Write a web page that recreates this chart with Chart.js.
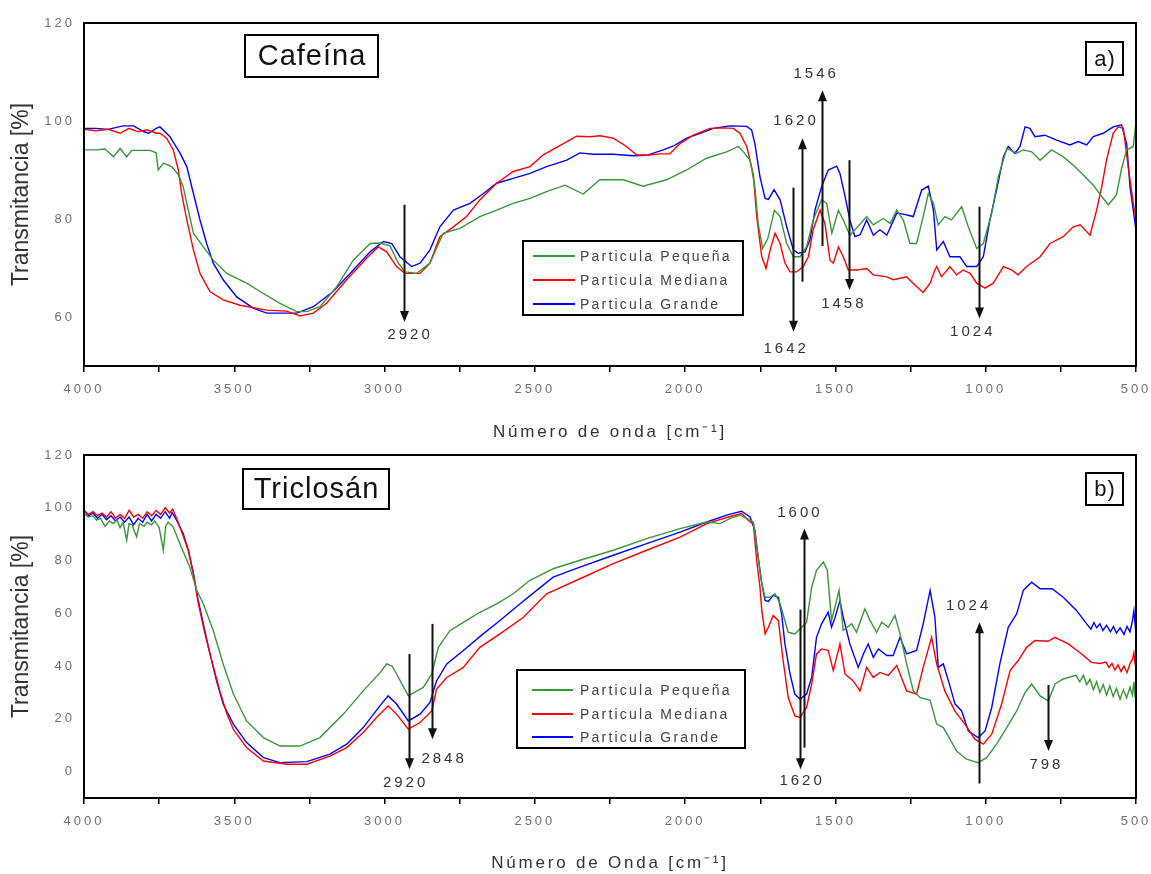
<!DOCTYPE html>
<html>
<head>
<meta charset="utf-8">
<title>FTIR Cafeína / Triclosán</title>
<script src="https://cdn.jsdelivr.net/npm/chart.js@4.4.0/dist/chart.umd.min.js"></script>
<style>
  body { margin: 0; background: #fff; }
  canvas { display: block; }
</style>
</head>
<body>
<canvas id="cafCanvas" width="1151" height="444"></canvas>
<canvas id="tclCanvas" width="1151" height="430"></canvas>
<script>
/* ---------- shared axis data ---------- */
const xTicks      = [4000, 3750, 3500, 3250, 3000, 2750, 2500, 2250, 2000, 1750, 1500, 1250, 1000, 750, 500];
const cafYTicks   = [60, 80, 100, 120];
const tclYTicks   = [0, 20, 40, 60, 80, 100, 120];
const seriesNames = ["Particula Pequeña", "Particula Mediana", "Particula Grande"];

/* ---------- a) Cafeína : [wavenumber, transmittance] ---------- */
const cafPeq = [[4000,94.1],[3960,94.1],[3930,94.3],[3902,92.7],[3880,94.4],[3858,92.7],[3841,94.0],[3814,94.0],[3780,94.0],[3760,93.5],[3753,90.0],[3736,91.4],[3708,90.7],[3686,89.0],[3670,86.6],[3658,83.2],[3636,77.1],[3603,74.3],[3570,71.6],[3525,68.9],[3459,66.9],[3414,65.2],[3348,62.8],[3292,61.1],[3259,61.1],[3215,62.1],[3159,66.2],[3104,71.6],[3048,75.0],[3015,75.1],[2982,74.5],[2954,71.0],[2932,69.2],[2893,68.9],[2849,71.0],[2805,77.1],[2749,78.1],[2683,80.5],[2627,81.8],[2572,83.2],[2516,84.2],[2461,85.6],[2400,86.9],[2339,85.1],[2284,88.0],[2206,88.0],[2140,86.7],[2062,88.0],[1995,90.0],[1929,92.4],[1862,93.7],[1823,94.8],[1806,93.7],[1784,92.0],[1768,86.6],[1757,79.0],[1742,74.0],[1725,76.0],[1703,81.8],[1684,80.5],[1662,75.0],[1640,72.3],[1618,72.3],[1596,74.3],[1574,79.8],[1546,83.9],[1529,83.2],[1512,77.1],[1490,81.8],[1474,79.8],[1452,76.7],[1435,77.8],[1396,80.5],[1374,78.8],[1341,80.1],[1318,79.1],[1296,81.8],[1274,79.8],[1252,75.0],[1230,75.0],[1208,80.5],[1191,85.2],[1174,83.2],[1158,78.8],[1136,80.5],[1114,79.8],[1080,82.5],[1058,78.4],[1030,74.0],[1008,75.0],[980,81.2],[958,88.6],[930,94.4],[897,93.4],[875,94.1],[847,93.7],[819,92.0],[781,94.1],[742,92.7],[709,91.0],[675,89.0],[642,86.9],[614,84.6],[592,82.9],[565,84.9],[548,90.3],[531,94.1],[509,94.8],[500,100]];
const cafMed = [[4000,98.3],[3960,98.0],[3920,98.3],[3880,97.5],[3850,98.5],[3820,97.8],[3790,98.2],[3760,97.5],[3747,97.5],[3725,96.5],[3703,94.1],[3686,90.0],[3675,85.2],[3658,79.8],[3636,73.7],[3614,68.9],[3581,65.2],[3537,63.5],[3481,62.4],[3392,61.4],[3326,61.2],[3281,60.2],[3237,60.8],[3193,62.8],[3126,67.6],[3060,72.0],[3021,74.3],[2993,73.3],[2960,70.3],[2932,68.9],[2882,68.9],[2849,71.0],[2816,76.4],[2771,78.4],[2727,80.5],[2683,83.9],[2627,87.3],[2572,89.7],[2516,90.7],[2472,93.1],[2405,95.4],[2361,96.9],[2317,96.8],[2284,97.0],[2239,96.5],[2195,94.8],[2162,93.1],[2128,93.0],[2084,93.3],[2051,93.3],[2017,95.4],[1973,97.1],[1917,98.5],[1873,98.6],[1840,98.5],[1818,97.5],[1795,94.8],[1773,89.0],[1762,80.5],[1745,72.3],[1731,69.9],[1718,73.5],[1701,77.1],[1684,75.0],[1668,71.0],[1651,69.2],[1629,69.2],[1607,70.3],[1590,72.3],[1574,77.8],[1551,81.8],[1535,79.1],[1518,71.6],[1507,71.0],[1490,74.3],[1474,72.3],[1457,69.6],[1429,69.6],[1396,69.9],[1374,68.6],[1329,68.2],[1307,67.6],[1263,68.2],[1235,66.5],[1208,65.0],[1185,66.9],[1169,69.6],[1163,70.3],[1147,68.2],[1119,70.3],[1097,68.6],[1075,69.6],[1052,68.9],[1030,66.9],[1002,65.9],[975,66.9],[941,70.3],[914,69.6],[892,68.6],[864,70.3],[819,72.3],[786,75.0],[742,76.4],[709,78.4],[686,78.8],[653,76.7],[631,81.8],[614,86.6],[598,92.0],[576,97.5],[559,98.8],[542,98.5],[526,90.7],[509,83.2],[500,80.0]];
const cafGra = [[4000,98.5],[3960,98.5],[3920,98.3],[3870,99.0],[3835,99.0],[3800,97.8],[3785,97.5],[3760,98.5],[3747,98.8],[3714,96.8],[3681,93.5],[3658,90.7],[3636,85.2],[3614,79.8],[3592,75.0],[3570,71.0],[3537,67.6],[3492,64.1],[3437,61.8],[3392,60.8],[3292,60.8],[3237,62.1],[3171,65.2],[3104,69.6],[3048,73.3],[3004,75.4],[2976,75.0],[2949,72.3],[2910,70.3],[2882,71.0],[2849,73.7],[2816,78.4],[2771,81.8],[2716,83.2],[2671,85.2],[2627,87.3],[2572,88.3],[2516,89.3],[2461,90.7],[2394,92.0],[2350,93.5],[2306,93.2],[2239,93.2],[2173,92.9],[2128,93.0],[2073,94.1],[2039,94.9],[1995,96.5],[1950,97.5],[1906,98.5],[1851,99.0],[1795,98.9],[1779,98.2],[1768,95.4],[1751,88.6],[1734,84.2],[1723,84.0],[1704,86.0],[1684,83.9],[1662,78.4],[1640,73.7],[1624,73.0],[1601,73.3],[1585,75.7],[1568,81.8],[1546,86.6],[1524,90.0],[1496,90.8],[1485,89.3],[1468,84.6],[1452,79.8],[1435,76.4],[1418,76.8],[1396,79.8],[1374,76.7],[1352,77.8],[1329,76.7],[1296,81.2],[1274,81.0],[1241,80.5],[1213,85.9],[1191,86.7],[1174,81.8],[1163,73.7],[1141,75.4],[1119,72.3],[1086,72.3],[1063,70.3],[1030,70.3],[1008,72.3],[986,79.8],[964,85.9],[941,92.7],[925,94.8],[903,93.4],[886,94.8],[869,98.8],[853,98.5],[836,96.8],[803,97.1],[764,96.1],[720,95.1],[692,95.8],[664,95.1],[642,96.8],[609,97.5],[576,98.8],[548,99.2],[531,95.4],[520,86.6],[503,79.1],[500,77.5]];

/* arrows: wavenumber, tail value, tip value; labels: text, position */
const cafArrowWn   = [2935, 1640, 1610, 1546, 1454, 1021];
const cafArrowFrom = [82.9, 86.4, 67.2, 74.5, 92.0, 82.5];
const cafArrowTo   = [59.0, 57.0, 96.5, 106.3, 65.5, 59.7];
const cafLabels    = ["2920", "1642", "1620", "1546", "1458", "1024"];
const cafLabelWn   = [2920, 1669, 1636, 1569, 1477, 1048];
const cafLabelT    = [56.3, 53.6, 100.1, 109.7, 62.7, 56.9];

/* ---------- b) Triclosán ---------- */
const tclPeq = [[4000,97.8],[3985,96.5],[3970,97],[3958,95.3],[3945,96],[3930,93],[3915,95],[3903,94],[3890,95.5],[3880,92.5],[3870,94.5],[3858,87.7],[3850,94],[3840,93.5],[3825,89],[3815,94],[3800,93],[3790,94.5],[3775,93.5],[3765,95],[3750,92.5],[3736,83.9],[3728,93],[3720,94.5],[3710,93.5],[3703,92.7],[3681,86.4],[3648,77.5],[3625,68.7],[3603,63.6],[3570,53.5],[3537,40.8],[3503,29.4],[3459,19.2],[3403,12.9],[3348,9.7],[3282,9.7],[3215,12.9],[3137,21.8],[3071,30.6],[3015,37.5],[2993,40.8],[2975,40],[2960,37],[2921,28.7],[2871,31.9],[2843,37],[2821,47.1],[2782,53.5],[2727,57.3],[2683,60.4],[2627,63.6],[2572,67.4],[2516,72.5],[2439,76.9],[2350,80.1],[2239,83.9],[2128,88.3],[2017,92.1],[1928,94.6],[1884,94],[1850,96],[1817,97.2],[1784,95.3],[1773,94.5],[1757,81.3],[1745,71.2],[1734,66.1],[1718,66.1],[1701,67.4],[1684,63.6],[1657,52.8],[1635,52.2],[1612,54.7],[1596,56.6],[1579,69.9],[1563,76.3],[1540,79.4],[1527,76.3],[1513,57.3],[1496,64.9],[1488,68.7],[1474,53.5],[1446,56],[1430,52.8],[1402,61.7],[1385,57.3],[1363,52.8],[1346,56.6],[1324,54.7],[1302,59.2],[1285,52.2],[1263,40.8],[1241,30.6],[1219,28.1],[1185,27],[1163,18],[1141,16.7],[1119,12.3],[1097,7.8],[1064,4.7],[1025,3.4],[997,5.3],[964,10.4],[930,16.7],[897,23],[869,30],[847,33.2],[819,28.7],[792,26.8],[769,33.2],[742,35.1],[700,36.5],[687,34],[675,36.5],[664,33],[653,35],[642,31],[631,34],[620,30],[609,33],[598,29],[587,32.5],[576,28.5],[565,31.5],[553,27.5],[542,31],[531,28],[520,32],[512,29],[507,34],[503,28],[500,31]];
const tclMed = [[4000,99],[3985,97.5],[3970,98.5],[3955,97],[3940,98],[3925,96.5],[3910,98.5],[3895,96],[3880,97.5],[3865,96],[3850,99],[3835,96.5],[3820,97.5],[3805,96],[3790,98.5],[3775,97],[3760,99],[3745,97.5],[3730,100],[3715,98],[3705,99.5],[3692,96],[3681,92.7],[3653,84],[3636,75],[3620,64],[3603,55],[3592,49.7],[3570,40],[3548,30.5],[3525,22],[3503,16],[3459,9.1],[3403,4],[3326,2.8],[3259,2.8],[3182,5.9],[3126,9.1],[3071,14.8],[3027,20.5],[2988,24.9],[2960,21.8],[2921,16.1],[2882,18.6],[2843,23],[2827,31.3],[2793,35.7],[2738,39.5],[2683,47.1],[2616,52.2],[2538,58.5],[2461,67.4],[2350,73.1],[2239,78.8],[2128,83.9],[2017,88.9],[1928,94],[1862,96.3],[1812,97.8],[1784,94.6],[1773,94],[1762,80],[1751,69.9],[1745,61.1],[1734,52.2],[1723,54.7],[1707,59.2],[1690,57.3],[1674,42.1],[1657,28.1],[1635,21.1],[1618,20.5],[1596,24.3],[1579,33.2],[1563,44.6],[1546,46.5],[1524,46],[1507,38.3],[1485,48.4],[1468,37],[1441,34.4],[1418,30.6],[1396,39.5],[1374,35.7],[1352,37.6],[1324,36.5],[1296,40.2],[1263,30.6],[1230,29.4],[1208,39.5],[1180,50.9],[1163,40.8],[1136,30.6],[1103,23],[1069,18],[1036,12.3],[1008,10.4],[980,14.2],[947,25.6],[919,38.3],[892,42.1],[864,47.1],[836,49.7],[792,49.4],[770,50.9],[725,48.4],[681,44.6],[648,41.4],[620,41],[600,41.5],[590,39.5],[580,41],[570,38.5],[560,40.5],[550,38],[540,40],[530,37.5],[520,41],[512,42.5],[507,45],[503,40.5],[500,44]];
const tclGra = [[4000,99],[3985,97],[3970,98],[3955,96],[3940,97.5],[3925,95.5],[3910,97],[3895,95],[3880,96.5],[3865,94.5],[3850,96.5],[3835,93.5],[3820,96],[3805,94.5],[3790,97.5],[3775,95],[3760,97.5],[3745,96],[3730,98.5],[3715,96],[3707,98.2],[3692,95.3],[3670,90.2],[3653,83.9],[3636,75],[3620,64.9],[3603,56],[3581,44.6],[3559,34.4],[3537,25.6],[3503,18],[3459,11],[3403,5.3],[3348,3.4],[3259,3.8],[3182,6.6],[3126,10.4],[3071,16.7],[3015,25],[2988,28.7],[2960,25.6],[2921,19.2],[2882,21.8],[2849,26.2],[2827,34.4],[2793,40.8],[2738,45.9],[2672,52.2],[2616,57.3],[2549,63.6],[2494,68.7],[2439,73.7],[2350,77.5],[2239,82],[2128,86.4],[2017,90.8],[1928,94.6],[1862,97.2],[1812,98.7],[1784,96.5],[1768,91.5],[1757,81.3],[1745,71.2],[1734,64.9],[1723,64.5],[1707,66.8],[1690,66.1],[1679,59.8],[1668,48.4],[1651,37],[1635,29.4],[1618,27.5],[1596,29.4],[1579,35.7],[1563,50.9],[1546,56],[1524,60.4],[1513,54.7],[1501,58.5],[1485,64.9],[1474,58.5],[1452,48.4],[1424,39.5],[1407,44.6],[1391,48.4],[1374,43.3],[1357,46.5],[1329,44],[1308,44],[1285,50.9],[1263,44.6],[1230,45.9],[1208,56],[1185,68.7],[1169,58.5],[1158,39.5],[1141,40.8],[1124,34.4],[1102,25.6],[1080,23],[1058,15.4],[1025,12.9],[1002,15.4],[980,24.3],[953,40.8],[925,54.7],[897,59.8],[875,68.7],[847,71.8],[819,69.3],[779,69.3],[742,66.1],[698,61.1],[664,56],[650,54],[640,56.5],[631,54.5],[620,56],[610,53.5],[598,55.5],[585,53],[575,55],[565,52.5],[553,54.5],[540,52],[530,55],[520,53],[512,57],[507,61],[503,56],[500,59]];

const tclArrowWn   = [2920, 2843, 1618, 1604, 1021, 792];
const tclArrowFrom = [44.6, 56.0, 61.4, 9.1, -4.5, 32.8];
const tclArrowTo   = [0.9, 12.3, 0.9, 92.1, 56.6, 7.8];
const tclLabels    = ["2920", "2848", "1620", "1600", "1024", "798"];
const tclLabelWn   = [2935, 2807, 1616, 1623, 1062, 803];
const tclLabelT    = [-4.2, 4.7, -3.6, 98.1, 62.7, 2.5];

/* ---------- drawing ---------- */
const FONT   = "'Liberation Sans', Arial, sans-serif";
const COLORS = ["#3a963a", "#ff0000", "#0000ff"];

function pts(pairs) { return pairs.map(p => ({ x: p[0], y: p[1] })); }

function spaced(ctx, px) { ctx.letterSpacing = px + "px"; }

function textBox(ctx, b, text, size, spacing) {
  ctx.lineWidth = 2;
  ctx.strokeStyle = "#000";
  ctx.strokeRect(b[0], b[1], b[2], b[3]);
  spaced(ctx, spacing);
  ctx.font = size + "px " + FONT;
  ctx.fillStyle = "#111";
  ctx.textAlign = "center";
  ctx.textBaseline = "middle";
  ctx.fillText(text, b[0] + b[2] / 2 + spacing / 2, b[1] + b[3] / 2 + 1);
}

function makeDecor(ann, look) {
  return {
    id: "decor",
    beforeDraw(chart) { spaced(chart.ctx, 3); },   // tick labels are letter-spaced
    afterDraw(chart) {
      const { ctx, chartArea: a, scales: { x, y } } = chart;
      ctx.save();

      // frame round the plot
      ctx.strokeStyle = "#000";
      ctx.lineWidth = 2;
      ctx.strokeRect(a.left, a.top, a.right - a.left, a.bottom - a.top);

      // axis titles
      ctx.fillStyle = "#333";
      ctx.textAlign = "center";
      ctx.textBaseline = "middle";
      spaced(ctx, 0);
      ctx.font = "23px " + FONT;
      ctx.save();
      ctx.translate(22, (a.top + a.bottom) / 2);
      ctx.rotate(-Math.PI / 2);
      ctx.fillText("Transmitancia [%]", 0, 0);
      ctx.restore();
      spaced(ctx, 2.8);
      ctx.font = "17px " + FONT;
      ctx.fillText(look.xTitle, (a.left + a.right) / 2, look.xTitleY);

      // arrows
      ctx.strokeStyle = "#111";
      ctx.fillStyle = "#111";
      ctx.lineWidth = 2;
      ann.wn.forEach((wn, i) => {
        const px = Math.round(x.getPixelForValue(wn)) + 0.5;
        const y0 = y.getPixelForValue(ann.from[i]);
        const y1 = y.getPixelForValue(ann.to[i]);
        const dir = y1 > y0 ? 1 : -1;
        ctx.beginPath();
        ctx.moveTo(px, y0);
        ctx.lineTo(px, y1 - dir * 8);
        ctx.stroke();
        ctx.beginPath();
        ctx.moveTo(px, y1);
        ctx.lineTo(px - 4.5, y1 - dir * 11);
        ctx.lineTo(px + 4.5, y1 - dir * 11);
        ctx.closePath();
        ctx.fill();
      });

      // peak labels
      ctx.fillStyle = "#333";
      ctx.font = "15px " + FONT;
      spaced(ctx, 3);
      ann.labels.forEach((t, i) => {
        ctx.fillText(t, x.getPixelForValue(ann.labelWn[i]) + 1.5, y.getPixelForValue(ann.labelT[i]));
      });

      // legend
      const L = look.legend;
      ctx.lineWidth = 2;
      ctx.strokeStyle = "#000";
      ctx.strokeRect(L.box[0], L.box[1], L.box[2], L.box[3]);
      ctx.textAlign = "left";
      ctx.font = "14px " + FONT;
      spaced(ctx, 2.2);
      chart.data.datasets.forEach((ds, i) => {
        const ly = L.rows[i];
        ctx.strokeStyle = ds.borderColor;
        ctx.lineWidth = 2;
        ctx.beginPath();
        ctx.moveTo(L.lineX[0], ly);
        ctx.lineTo(L.lineX[1], ly);
        ctx.stroke();
        ctx.fillStyle = "#444";
        ctx.fillText(ds.label, L.textX, ly + 1);
      });

      // name box and panel letter
      textBox(ctx, look.nameBox, look.name, 29, 1);
      textBox(ctx, look.letterBox, look.letter, 22, 1);

      ctx.restore();
    }
  };
}

function buildPanel(id, series, yMin, yTicks, ann, look) {
  return new Chart(document.getElementById(id), {
    type: "line",
    data: {
      datasets: series.map((s, i) => ({
        label: seriesNames[i],
        data: pts(s),
        borderColor: COLORS[i],
        borderWidth: 1.4,
        pointRadius: 0,
        fill: false,
        tension: 0
      }))
    },
    options: {
      responsive: false,
      animation: false,
      events: [],
      layout: { padding: { left: 0, right: 15, top: look.padTop, bottom: 0 } },
      plugins: { legend: { display: false }, tooltip: { enabled: false } },
      scales: {
        x: {
          type: "linear",
          reverse: true,
          min: 500,
          max: 4000,
          afterBuildTicks: s => { s.ticks = xTicks.map(v => ({ value: v })); },
          afterFit: s => { s.height = look.xHeight; s.paddingLeft = 0; s.paddingRight = 0; },
          border: { display: false },
          grid: { drawOnChartArea: false, color: "#000", lineWidth: 1.5, tickLength: 6 },
          ticks: {
            autoSkip: false,
            maxRotation: 0,
            padding: 10,
            color: "#707070",
            font: { family: FONT, size: 13 },
            callback: v => (v % 500 === 0 ? String(v) : "")
          }
        },
        y: {
          min: yMin,
          max: 120,
          afterBuildTicks: s => { s.ticks = yTicks.map(v => ({ value: v })); },
          afterFit: s => { s.width = 84; s.paddingTop = 0; s.paddingBottom = 0; },
          border: { display: false },
          grid: { display: false, drawTicks: false },
          ticks: {
            padding: 9,
            color: "#707070",
            font: { family: FONT, size: 13 }
          }
        }
      }
    },
    plugins: [makeDecor(ann, look)]
  });
}

buildPanel("cafCanvas", [cafPeq, cafMed, cafGra], 50, cafYTicks,
  { wn: cafArrowWn, from: cafArrowFrom, to: cafArrowTo, labels: cafLabels, labelWn: cafLabelWn, labelT: cafLabelT },
  {
    padTop: 23, xHeight: 78,
    xTitle: "Número de onda [cm⁻¹]", xTitleY: 432,
    name: "Cafeína", nameBox: [245, 35, 133, 42],
    letter: "a)", letterBox: [1086, 42, 37, 33],
    legend: { box: [523, 241, 220, 74], rows: [256, 280, 304], lineX: [533, 575], textX: 580 }
  });

buildPanel("tclCanvas", [tclPeq, tclMed, tclGra], -10, tclYTicks,
  { wn: tclArrowWn, from: tclArrowFrom, to: tclArrowTo, labels: tclLabels, labelWn: tclLabelWn, labelT: tclLabelT },
  {
    padTop: 11, xHeight: 76,
    xTitle: "Número de Onda [cm⁻¹]", xTitleY: 419,
    name: "Triclosán", nameBox: [243, 25, 146, 40],
    letter: "b)", letterBox: [1086, 29, 37, 32],
    legend: { box: [517, 226, 228, 78], rows: [246, 270, 293], lineX: [532, 573], textX: 580 }
  });
</script>
</body>
</html>
